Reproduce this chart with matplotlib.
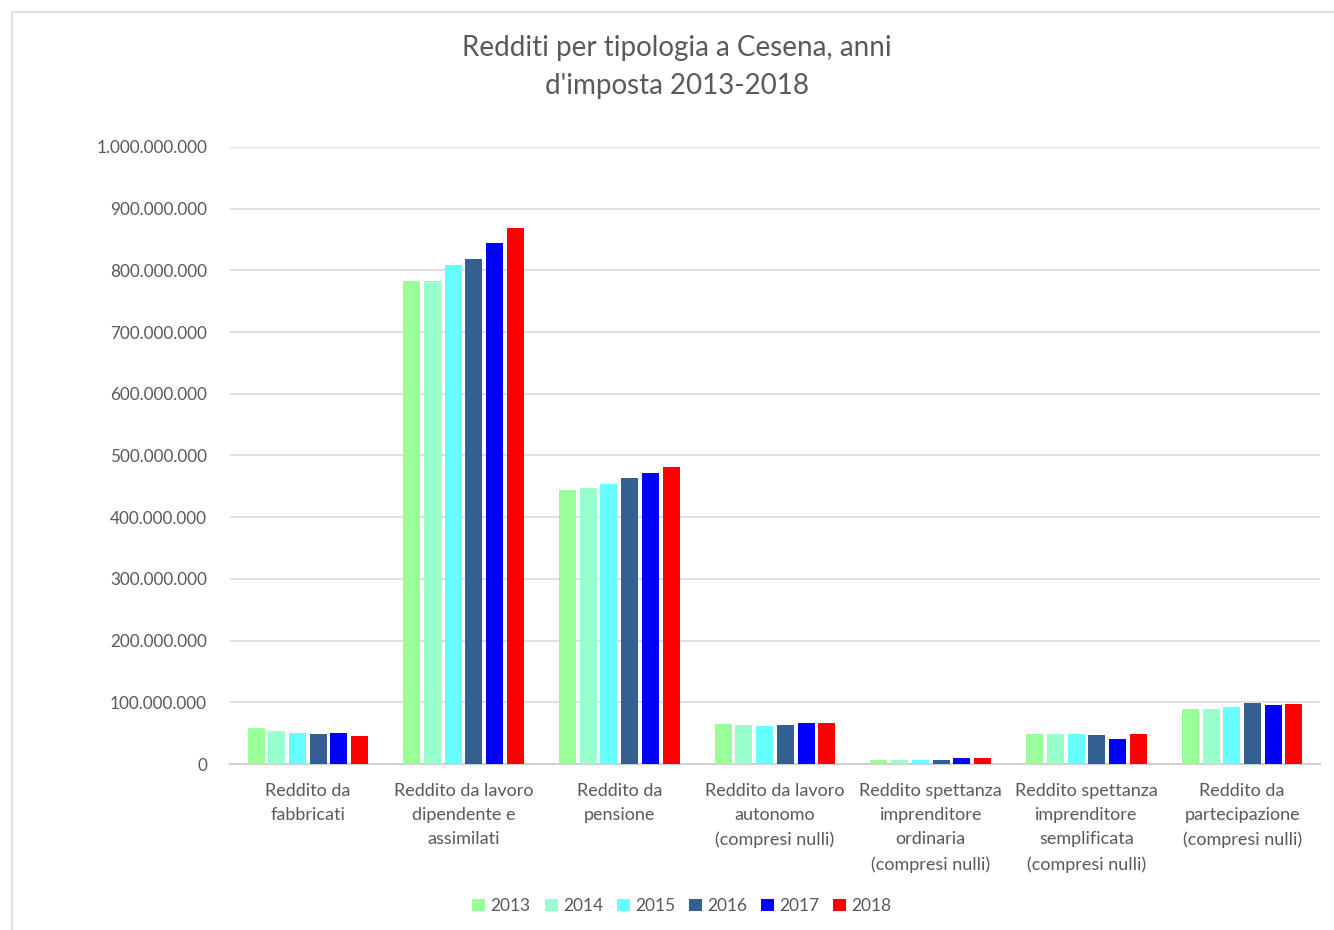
import matplotlib.pyplot as plt
import matplotlib.ticker as mticker
import matplotlib.patches as mpatches
import numpy as np

plt.rcParams['font.family'] = ['Lato', 'DejaVu Sans']

# ------------------------------------------------------------
# Dati
# ------------------------------------------------------------
categorie = [
    "Reddito da\nfabbricati",
    "Reddito da lavoro\ndipendente e\nassimilati",
    "Reddito da\npensione",
    "Reddito da lavoro\nautonomo\n(compresi nulli)",
    "Reddito spettanza\nimprenditore\nordinaria\n(compresi nulli)",
    "Reddito spettanza\nimprenditore\nsemplificata\n(compresi nulli)",
    "Reddito da\npartecipazione\n(compresi nulli)",
]
anni = ["2013", "2014", "2015", "2016", "2017", "2018"]

v2013 = [58e6, 783e6, 444e6, 65e6, 6.7e6, 48e6, 89e6]
v2014 = [54e6, 783e6, 448e6, 63e6, 6.7e6, 48e6, 89e6]
v2015 = [50e6, 808e6, 454e6, 62e6, 6.7e6, 48e6, 92e6]
v2016 = [49e6, 819e6, 463e6, 63e6, 6.0e6, 47e6, 99e6]
v2017 = [49.5e6, 844e6, 471e6, 66e6, 9.4e6, 41e6, 96e6]
v2018 = [46e6, 868e6, 482e6, 67e6, 9.4e6, 48e6, 98e6]
serie = [v2013, v2014, v2015, v2016, v2017, v2018]

colori = ["#99FF99", "#99FFCC", "#66FFFF", "#335F91", "#0000FF", "#FF0000"]

# ------------------------------------------------------------
# Figura
# ------------------------------------------------------------
fig = plt.figure(figsize=(13.34, 9.3), dpi=100)
ax = fig.add_axes([230 / 1334, 1 - 764 / 930, 1090 / 1334, (764 - 147) / 930])

# bordo del grafico
fig.patches.append(mpatches.Rectangle((12 / 1334, -0.05), 1.1, 1 - 12 / 930 + 0.05,
                                      transform=fig.transFigure, fill=False,
                                      edgecolor="#D9D9D9", linewidth=1.2))

x = np.arange(len(categorie))
passo = 0.133
larg = 0.109
for i, (vals, col, anno) in enumerate(zip(serie, colori, anni)):
    ax.bar(x + (i - 2.5) * passo, vals, width=larg, color=col, label=anno, zorder=3)

ax.set_xlim(-0.5, len(categorie) - 0.5)
ax.set_ylim(0, 1e9)
ax.yaxis.set_major_locator(mticker.MultipleLocator(1e8))
ax.yaxis.set_major_formatter(mticker.FuncFormatter(
    lambda v, p: f"{int(v):,}".replace(",", ".")))
ax.grid(axis="y", color="#D9D9D9", linewidth=1.2, zorder=0)

for s in ["top", "right", "left"]:
    ax.spines[s].set_visible(False)
ax.spines["bottom"].set_color("#D0D0D0")
ax.spines["bottom"].set_linewidth(1.5)

ax.set_xticks(x)
ax.set_xticklabels(categorie, fontsize=13, color="#595959", linespacing=1.64, va="top")
ax.tick_params(axis="x", length=0, pad=13.5)
ax.tick_params(axis="y", length=0, labelsize=12.3, labelcolor="#595959", pad=16.5)

fig.text(677 / 1334, 1 - 67 / 930, "Redditi per tipologia a Cesena, anni\nd'imposta 2013-2018",
         ha="center", va="center", fontsize=20, color="#595959", linespacing=1.6)

fig.legend(loc="center", bbox_to_anchor=(682 / 1334, 1 - 906 / 930), ncol=6,
           frameon=False, fontsize=12.5, handlelength=0.75, handleheight=0.75,
           handletextpad=0.3, columnspacing=0.8, labelcolor="#595959")

plt.savefig("out.png", dpi=100)
